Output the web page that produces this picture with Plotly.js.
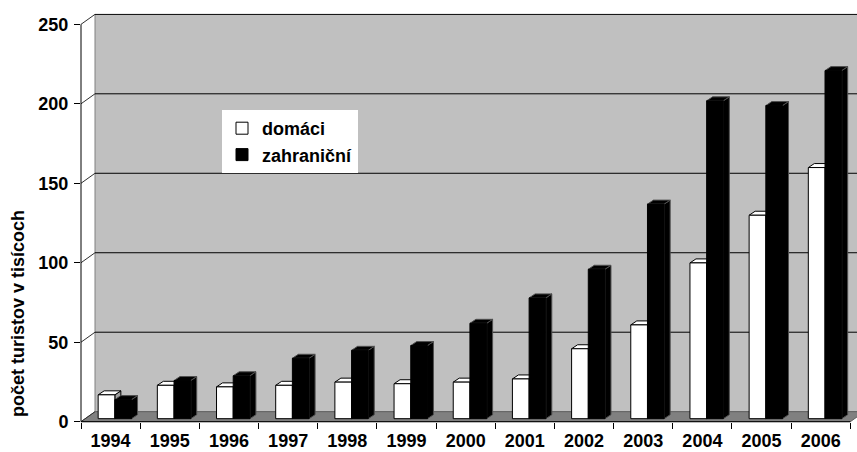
<!DOCTYPE html>
<html><head><meta charset="utf-8">
<script src="https://cdn.plot.ly/plotly-3.0.1.min.js"></script>
<style>html,body{margin:0;padding:0;background:#fff;}#chart{width:857px;height:452px;}</style>
</head><body><div id="chart"></div>
<script>
// ---- data ----
const years = ['1994','1995','1996','1997','1998','1999','2000','2001','2002','2003','2004','2005','2006'];
const domaci = [15, 21, 20, 21, 23, 22, 23, 25, 44, 59, 98, 128, 158];
const zahranicni = [12, 24, 27, 38, 43, 46, 60, 76, 94, 135, 200, 197, 219];
const seriesNames = ['domáci', 'zahraniční'];
const yTicks = [0, 50, 100, 150, 200, 250];
const yTitle = 'počet turistov v tisícoch';

// ---- layout constants ----
const W = 857, H = 452, L = 81, R = 0, T = 14, B = 30;
const plotW = W - L - R, plotH = H - T - B;
const pxPerCat = 59.18;
const xRange = [-0.5, -0.5 + plotW / pxPerCat];
const axisRange = [-0.2, 256.5];
const pxPerUnit = plotH / (axisRange[1] - axisRange[0]);
const barShiftPx = 3;
const barShift = barShiftPx / pxPerUnit;
const barRange = [axisRange[0] - barShift, axisRange[1] - barShift];
const wallDX = 14, wallDY = 10;
const barDXu = 6 / pxPerCat, barDYu = 4 / pxPerUnit;
const bw = 0.282, offW = -0.21, offB = 0.072;
const px = x => (x - L) / plotW;
const py = y => (T + plotH - y) / plotH;
const zeroPx = T + plotH - (0 - axisRange[0]) * pxPerUnit;
const font = {family: 'Liberation Sans, Arial, sans-serif', size: 18, color: '#000', weight: 'bold'};

const traces = [
  {type: 'bar', name: seriesNames[0], x: years, y: domaci, yaxis: 'y', xaxis: 'x',
   width: bw, offset: offW, marker: {color: '#ffffff', line: {color: '#000', width: 1}}, hoverinfo: 'skip'},
  {type: 'bar', name: seriesNames[1], x: years, y: zahranicni, yaxis: 'y', xaxis: 'x',
   width: bw, offset: offB, marker: {color: '#000000', line: {color: '#000', width: 1}}, hoverinfo: 'skip'}
];

const shapes = [];
// back wall
shapes.push({type: 'rect', xref: 'paper', yref: 'paper', layer: 'below',
  x0: px(L + wallDX), x1: 1.05, y0: py(zeroPx - wallDY), y1: py(zeroPx - wallDY - 250 * pxPerUnit),
  fillcolor: '#c0c0c0', line: {color: '#808080', width: 1}});
// floor
const fx0 = L, fx1 = L + 13 * pxPerCat;
shapes.push({type: 'path', xref: 'paper', yref: 'paper', layer: 'below',
  path: `M${px(fx0)},${py(zeroPx)} L${px(fx1)},${py(zeroPx)} L${px(fx1 + wallDX)},${py(zeroPx - wallDY)} L${px(fx0 + wallDX)},${py(zeroPx - wallDY)} Z`,
  fillcolor: '#808080', line: {color: '#606060', width: 1}});
// gridlines on the back wall + diagonal connectors
yTicks.forEach(v => {
  if (v > 0) {
    shapes.push({type: 'line', xref: 'paper', yref: 'y2', ysizemode: 'pixel', yanchor: v, layer: 'below',
      x0: px(L + wallDX), x1: 1.05, y0: wallDY, y1: wallDY, line: {color: '#000', width: 1}});
  }
  shapes.push({type: 'line', xref: 'paper', yref: 'y2', ysizemode: 'pixel', yanchor: v, layer: 'below',
    x0: 0, x1: px(L + wallDX), y0: 0, y1: wallDY, line: {color: '#303030', width: 1}});
});
// 3D faces of bars
function faces(vals, off, fill, sideFill, lineCol) {
  vals.forEach((v, i) => {
    const x0 = i + off, x1 = i + off + bw;
    shapes.push({type: 'path', xref: 'x', yref: 'y', layer: 'below',
      path: `M${x1},0 L${x1 + barDXu},${barDYu} L${x1 + barDXu},${v + barDYu} L${x1},${v} Z`,
      fillcolor: sideFill, line: {color: lineCol, width: 1}});
    shapes.push({type: 'path', xref: 'x', yref: 'y', layer: 'below',
      path: `M${x0},${v} L${x1},${v} L${x1 + barDXu},${v + barDYu} L${x0 + barDXu},${v + barDYu} Z`,
      fillcolor: fill, line: {color: lineCol, width: 1}});
  });
}
faces(domaci, offW, '#ffffff', '#a0a0a0', '#000');
faces(zahranicni, offB, '#000000', '#000000', '#505050');
// axis lines
shapes.push({type: 'line', xref: 'x', yref: 'paper', layer: 'above',
  x0: -0.5, x1: 12.5, y0: py(zeroPx), y1: py(zeroPx), line: {color: '#000', width: 1}});
shapes.push({type: 'line', xref: 'paper', yref: 'y2', layer: 'above',
  x0: 0, x1: 0, y0: 0, y1: 250, line: {color: '#000', width: 1}});

const layout = {
  width: W, height: H,
  margin: {l: L, r: R, t: T, b: B, pad: 0},
  paper_bgcolor: '#ffffff', plot_bgcolor: 'rgba(0,0,0,0)',
  barmode: 'overlay',
  showlegend: true,
  font: font,
  xaxis: {type: 'category', range: xRange, tickson: 'boundaries', ticks: 'outside', ticklen: 6,
    tickcolor: '#000', tickwidth: 1, showgrid: false, zeroline: false, showline: false,
    tickfont: font, ticklabelstandoff: 6, fixedrange: true},
  yaxis: {range: barRange, visible: false, showgrid: false, zeroline: false, fixedrange: true},
  yaxis2: {range: axisRange, overlaying: 'y', side: 'left', anchor: 'x', tickvals: yTicks,
    ticks: 'outside', ticklen: 6, tickcolor: '#000', showgrid: false, zeroline: false, showline: false,
    tickfont: font, ticklabelstandoff: 2, fixedrange: true},
  annotations: [{text: yTitle, xref: 'paper', yref: 'paper', x: px(18), y: py(314),
    xanchor: 'center', yanchor: 'middle', textangle: -90, showarrow: false, font: font}],
  legend: {x: px(222), y: py(110), xanchor: 'left', yanchor: 'top', bgcolor: '#ffffff',
    borderwidth: 0, font: font, traceorder: 'normal'},
  shapes: shapes
};
// dummy trace to make yaxis2 exist
traces.push({type: 'scatter', x: [years[0]], y: [0], yaxis: 'y2', xaxis: 'x', mode: 'markers',
  marker: {opacity: 0}, showlegend: false, hoverinfo: 'skip'});

Plotly.newPlot('chart', traces, layout, {staticPlot: true, displayModeBar: false});
</script>
</body></html>
